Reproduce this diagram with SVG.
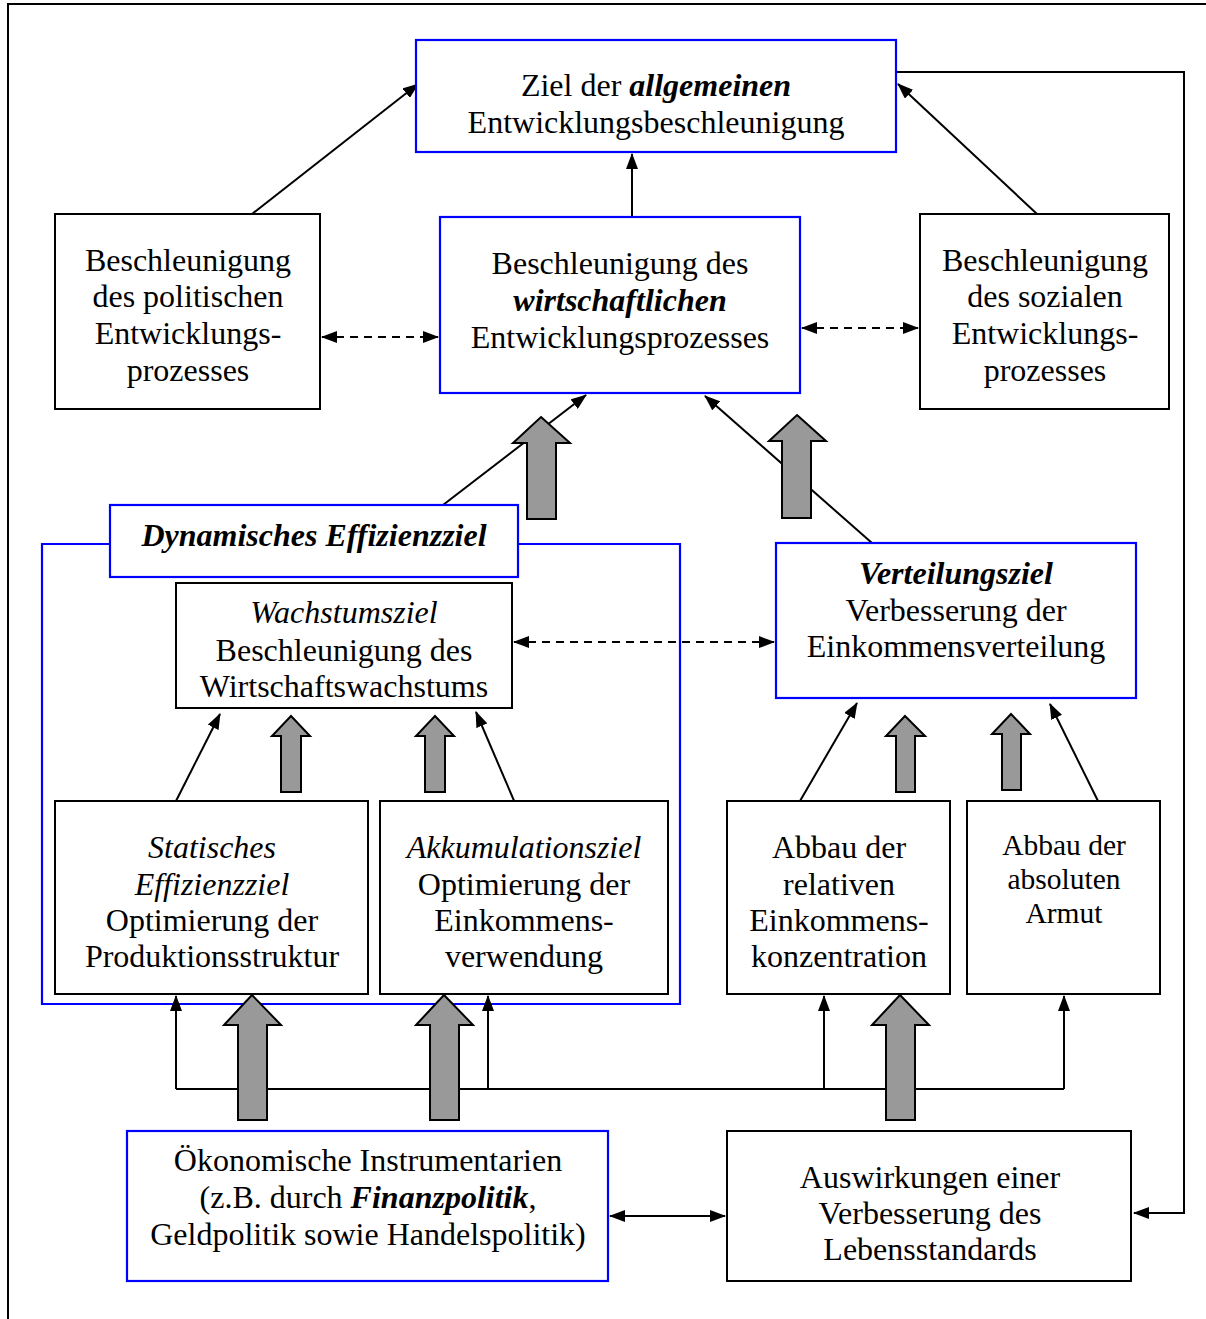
<svg xmlns="http://www.w3.org/2000/svg" width="1206" height="1319" viewBox="0 0 1206 1319">
<defs>
<style>
.t{font-family:"Liberation Serif","Times New Roman",serif;font-size:32px;fill:#000;text-anchor:middle}
.s{font-size:29.5px}
.i{font-style:italic}
.bi{font-style:italic;font-weight:bold}
.bb{fill:#fff;stroke:#0000ff;stroke-width:2.2}
.kb{fill:#fff;stroke:#000;stroke-width:2}
.ln{fill:none;stroke:#000;stroke-width:2}
.ds{fill:none;stroke:#000;stroke-width:2;stroke-dasharray:8,6}
.ga{fill:#999;stroke:#000;stroke-width:2;stroke-linejoin:miter}
</style>
<marker id="ah" markerWidth="16" markerHeight="12" refX="15" refY="6" orient="auto-start-reverse" markerUnits="userSpaceOnUse">
<path d="M0,0 L16,6 L0,12 Z" fill="#000"/>
</marker>
</defs>
<rect width="1206" height="1319" fill="#fff"/>
<path d="M8,1319 V4 H1206" fill="none" stroke="#000" stroke-width="2"/>

<g id="container-dynamisch">
<path d="M110,544 H42 V1004 H680 V544 H518" fill="none" stroke="#0000ff" stroke-width="2.2"/>
</g>

<g id="connectors">
<line class="ln" x1="252" y1="214" x2="418" y2="84" marker-end="url(#ah)"/>
<line class="ln" x1="1037" y1="214" x2="898" y2="84" marker-end="url(#ah)"/>
<line class="ln" x1="632" y1="217" x2="632" y2="154" marker-end="url(#ah)"/>
<polyline class="ln" points="896,72 1184,72 1184,1213 1134,1213" marker-end="url(#ah)"/>
<line class="ds" x1="322" y1="337" x2="438" y2="337" marker-start="url(#ah)" marker-end="url(#ah)"/>
<line class="ds" x1="802" y1="328" x2="918" y2="328" marker-start="url(#ah)" marker-end="url(#ah)"/>
<line class="ln" x1="443" y1="505" x2="586" y2="395" marker-end="url(#ah)"/>
<line class="ln" x1="872" y1="543" x2="705" y2="396" marker-end="url(#ah)"/>
<line class="ds" x1="514" y1="642" x2="774" y2="642" marker-start="url(#ah)" marker-end="url(#ah)"/>
<line class="ln" x1="176" y1="801" x2="220" y2="714" marker-end="url(#ah)"/>
<line class="ln" x1="515" y1="803" x2="476" y2="712" marker-end="url(#ah)"/>
<line class="ln" x1="800" y1="801" x2="857" y2="703" marker-end="url(#ah)"/>
<line class="ln" x1="1098" y1="801" x2="1050" y2="704" marker-end="url(#ah)"/>
<line class="ln" x1="176" y1="1089" x2="1064" y2="1089"/>
<line class="ln" x1="176" y1="1089" x2="176" y2="996" marker-end="url(#ah)"/>
<line class="ln" x1="488" y1="1089" x2="488" y2="996" marker-end="url(#ah)"/>
<line class="ln" x1="824" y1="1089" x2="824" y2="996" marker-end="url(#ah)"/>
<line class="ln" x1="1064" y1="1089" x2="1064" y2="996" marker-end="url(#ah)"/>
<line class="ln" x1="610" y1="1216" x2="725" y2="1216" marker-start="url(#ah)" marker-end="url(#ah)"/>
<path class="ga" d="M541,417 L570,443 L556,443 L556,519 L527,519 L527,443 L513,443 Z"/>
<path class="ga" d="M797,415 L826,441 L811,441 L811,518 L782,518 L782,441 L769,441 Z"/>
<path class="ga" d="M291,716 L310,736 L301,736 L301,792 L281,792 L281,736 L272,736 Z"/>
<path class="ga" d="M435,716 L454,736 L445,736 L445,792 L425,792 L425,736 L416,736 Z"/>
<path class="ga" d="M905,716 L925,736 L915,736 L915,792 L896,792 L896,736 L886,736 Z"/>
<path class="ga" d="M1011,714 L1030,734 L1021,734 L1021,790 L1002,790 L1002,734 L992,734 Z"/>
<path class="ga" d="M252,995 L281,1025 L267,1025 L267,1120 L238,1120 L238,1025 L224,1025 Z"/>
<path class="ga" d="M444,995 L473,1025 L459,1025 L459,1120 L430,1120 L430,1025 L416,1025 Z"/>
<path class="ga" d="M900,995 L929,1025 L915,1025 L915,1120 L886,1120 L886,1025 L872,1025 Z"/>
</g>

<g id="ziel-allgemein">
<rect class="bb" x="416" y="40" width="480" height="112"/>
<text class="t" x="656" y="96">Ziel der <tspan class="bi">allgemeinen</tspan></text>
<text class="t" x="656" y="133">Entwicklungsbeschleunigung</text>
</g>

<g id="politisch">
<rect class="kb" x="55" y="214" width="265" height="195"/>
<text class="t" x="188" y="271">Beschleunigung</text>
<text class="t" x="188" y="307">des politischen</text>
<text class="t" x="188" y="344">Entwicklungs-</text>
<text class="t" x="188" y="381">prozesses</text>
</g>

<g id="wirtschaftlich">
<rect class="bb" x="440" y="217" width="360" height="176"/>
<text class="t" x="620" y="274">Beschleunigung des</text>
<text class="t bi" x="620" y="311">wirtschaftlichen</text>
<text class="t" x="620" y="348">Entwicklungsprozesses</text>
</g>

<g id="sozial">
<rect class="kb" x="920" y="214" width="249" height="195"/>
<text class="t" x="1045" y="271">Beschleunigung</text>
<text class="t" x="1045" y="307">des sozialen</text>
<text class="t" x="1045" y="344">Entwicklungs-</text>
<text class="t" x="1045" y="381">prozesses</text>
</g>

<g id="dynamisch-label">
<rect class="bb" x="110" y="505" width="408" height="72"/>
<text class="t bi" x="314" y="546">Dynamisches Effizienzziel</text>
</g>

<g id="wachstumsziel">
<rect class="kb" x="176" y="583" width="336" height="125"/>
<text class="t i" x="344" y="623">Wachstumsziel</text>
<text class="t" x="344" y="661">Beschleunigung des</text>
<text class="t" x="344" y="697">Wirtschaftswachstums</text>
</g>

<g id="verteilungsziel">
<rect class="bb" x="776" y="543" width="360" height="155"/>
<text class="t bi" x="956" y="584">Verteilungsziel</text>
<text class="t" x="956" y="621">Verbesserung der</text>
<text class="t" x="956" y="657">Einkommensverteilung</text>
</g>

<g id="statisch">
<rect class="kb" x="55" y="801" width="313" height="193"/>
<text class="t i" x="212" y="858">Statisches</text>
<text class="t i" x="212" y="895">Effizienzziel</text>
<text class="t" x="212" y="931">Optimierung der</text>
<text class="t" x="212" y="967">Produktionsstruktur</text>
</g>

<g id="akkumulation">
<rect class="kb" x="380" y="801" width="288" height="193"/>
<text class="t i" x="524" y="858">Akkumulationsziel</text>
<text class="t" x="524" y="895">Optimierung der</text>
<text class="t" x="524" y="931">Einkommens-</text>
<text class="t" x="524" y="967">verwendung</text>
</g>

<g id="abbau-relativ">
<rect class="kb" x="727" y="801" width="223" height="193"/>
<text class="t" x="839" y="858">Abbau der</text>
<text class="t" x="839" y="895">relativen</text>
<text class="t" x="839" y="931">Einkommens-</text>
<text class="t" x="839" y="967">konzentration</text>
</g>

<g id="abbau-absolut">
<rect class="kb" x="967" y="801" width="193" height="193"/>
<text class="t s" x="1064" y="855">Abbau der</text>
<text class="t s" x="1064" y="889">absoluten</text>
<text class="t s" x="1064" y="923">Armut</text>
</g>

<g id="instrumentarien">
<rect class="bb" x="127" y="1131" width="481" height="150"/>
<text class="t" x="368" y="1171">Ökonomische Instrumentarien</text>
<text class="t" x="368" y="1208">(z.B. durch <tspan class="bi">Finanzpolitik</tspan>,</text>
<text class="t" x="368" y="1245">Geldpolitik sowie Handelspolitik)</text>
</g>

<g id="auswirkungen">
<rect class="kb" x="727" y="1131" width="404" height="150"/>
<text class="t" x="930" y="1188">Auswirkungen einer</text>
<text class="t" x="930" y="1224">Verbesserung des</text>
<text class="t" x="930" y="1260">Lebensstandards</text>
</g>
</svg>
